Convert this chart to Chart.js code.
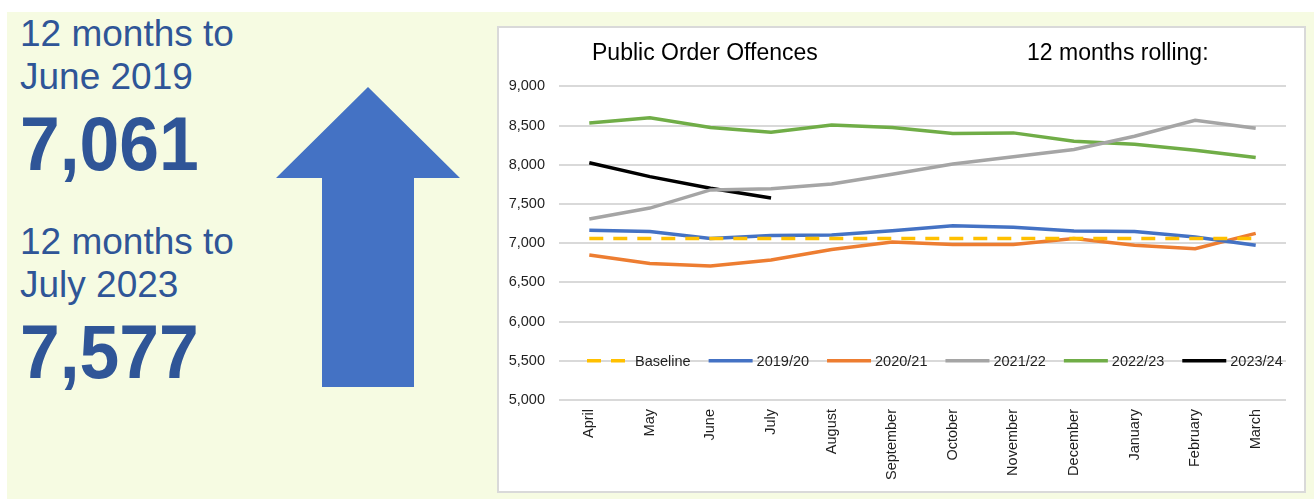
<!DOCTYPE html>
<html>
<head>
<meta charset="utf-8">
<title>Public Order Offences</title>
<script src="https://cdn.jsdelivr.net/npm/chart.js@4/dist/chart.umd.min.js"></script>
<style>
body { margin: 0; width: 1314px; height: 499px; background: #ffffff; position: relative; overflow: hidden;
       font-family: "Liberation Sans", Arial, sans-serif; }
#panel { position: absolute; left: 7px; top: 12px; width: 1307px; height: 487px; background: #f6fbe2; }
.lbl { position: absolute; left: 20px; color: #2f5597; font-size: 37px; line-height: 42.7px; white-space: nowrap; }
.big { position: absolute; left: 20px; color: #2f5597; font-size: 76px; line-height: 76px; font-weight: bold; white-space: nowrap;
       transform: scaleX(0.94); transform-origin: left top; }
#arrow { position: absolute; left: 0; top: 0; }
#box { position: absolute; left: 497px; top: 26px; width: 809px; height: 467px; box-sizing: border-box;
       border: 2px solid #d9d9d9; background: #ffffff; }
#box canvas { position: absolute; left: 0; top: 0; }
.ttl { position: absolute; top: 41px; font-size: 23px; line-height: 23px; color: #000; white-space: nowrap; }
</style>
</head>
<body>
<div id="panel"></div>

<div class="lbl" style="top:13px">12 months to<br>June 2019</div>
<div class="big" style="top:106px">7,061</div>
<div class="lbl" style="top:221px">12 months to<br>July 2023</div>
<div class="big" style="top:314px">7,577</div>

<svg id="arrow" width="480" height="499">
  <polygon points="368,87 460,178 414,178 414,387 322,387 322,178 276,178" fill="#4472c4"/>
</svg>

<div id="box">
  <canvas id="OffencesChart" width="805" height="463"></canvas>
</div>
<div class="ttl" style="left:592px">Public Order Offences</div>
<div class="ttl" style="left:1027px">12 months rolling:</div>

<script>
// months of the financial year
var months = ["April", "May", "June", "July", "August", "September",
              "October", "November", "December", "January", "February", "March"];

// 12 months rolling totals
var baseline = [7061, 7061, 7061, 7061, 7061, 7061, 7061, 7061, 7061, 7061, 7061, 7061];
var fy1920 = [7165, 7148, 7061, 7097, 7105, 7160, 7224, 7203, 7156, 7148, 7080, 6974];
var fy2021 = [6850, 6740, 6710, 6785, 6920, 7015, 6985, 6985, 7060, 6975, 6930, 7125];
var fy2122 = [7308, 7448, 7680, 7693, 7756, 7879, 8010, 8103, 8196, 8365, 8568, 8466];
var fy2223 = [8534, 8600, 8475, 8415, 8508, 8475, 8400, 8407, 8300, 8263, 8187, 8094];
var fy2324 = [8027, 7849, 7701, 7577, null, null, null, null, null, null, null, null];

// y axis ticks
var yTicks = [5000, 5500, 6000, 6500, 7000, 7500, 8000, 8500, 9000];

var FONT = '"Liberation Sans", Arial, sans-serif';

function line(label, data, colour, dash) {
    return {
        label: label,
        data: data,
        borderColor: colour,
        backgroundColor: colour,
        borderWidth: 3.5,
        borderDash: dash || [],
        pointRadius: 0,
        pointHoverRadius: 0,
        tension: 0,
        fill: false,
        spanGaps: false
    };
}

// legend sits on the 5,500 gridline like the Excel original
var legendOnGrid = {
    id: 'legendOnGrid',
    afterDatasetsDraw: function(chart) {
        var ctx = chart.ctx;
        var y = chart.scales.y.getPixelForValue(5500);
        var x = chart.chartArea.left + 28;
        ctx.save();
        ctx.font = '14.5px ' + FONT;
        ctx.textBaseline = 'middle';
        ctx.textAlign = 'left';
        chart.data.datasets.forEach(function(ds) {
            ctx.strokeStyle = ds.borderColor;
            ctx.lineWidth = ds.borderWidth;
            ctx.setLineDash(ds.borderDash);
            ctx.beginPath();
            ctx.moveTo(x, y);
            ctx.lineTo(x + 44, y);
            ctx.stroke();
            ctx.setLineDash([]);
            ctx.fillStyle = '#1f1f1f';
            ctx.fillText(ds.label, x + 48, y + 1);
            x += 48 + ctx.measureText(ds.label).width + 18;
        });
        ctx.restore();
    }
};

var ctx = document.getElementById('OffencesChart');

var LineGraph = new Chart(ctx, {
    type: 'line',
    data: {
        labels: months,
        datasets: [
            line('Baseline', baseline, '#ffc000', [14, 10]),
            line('2019/20', fy1920, '#4472c4'),
            line('2020/21', fy2021, '#ed7d31'),
            line('2021/22', fy2122, '#a5a5a5'),
            line('2022/23', fy2223, '#70ad47'),
            line('2023/24', fy2324, '#000000')
        ]
    },
    options: {
        responsive: false,
        animation: false,
        devicePixelRatio: 1,
        layout: { padding: { top: 58.4, right: 18, bottom: 0, left: 0 } },
        plugins: {
            legend: { display: false },
            tooltip: { enabled: false },
            title: { display: false }
        },
        scales: {
            x: {
                offset: true,
                grid: { display: false, drawTicks: false },
                border: { display: false },
                ticks: {
                    autoSkip: false,
                    minRotation: 90,
                    maxRotation: 90,
                    padding: 9,
                    color: '#1f1f1f',
                    font: { family: FONT, size: 14.5 }
                },
                afterFit: function(scale) { scale.height = 91; }
            },
            y: {
                min: 5000,
                max: 9000,
                afterBuildTicks: function(scale) {
                    scale.ticks = yTicks.map(function(v) { return { value: v }; });
                },
                grid: { color: '#d9d9d9', lineWidth: 2, drawTicks: false },
                border: { display: false },
                ticks: {
                    padding: 14,
                    color: '#1f1f1f',
                    font: { family: FONT, size: 14.5 },
                    callback: function(v) { return Number(v).toLocaleString('en-GB'); }
                },
                afterFit: function(scale) { scale.width = 60; }
            }
        }
    },
    plugins: [legendOnGrid]
});
</script>
</body>
</html>
